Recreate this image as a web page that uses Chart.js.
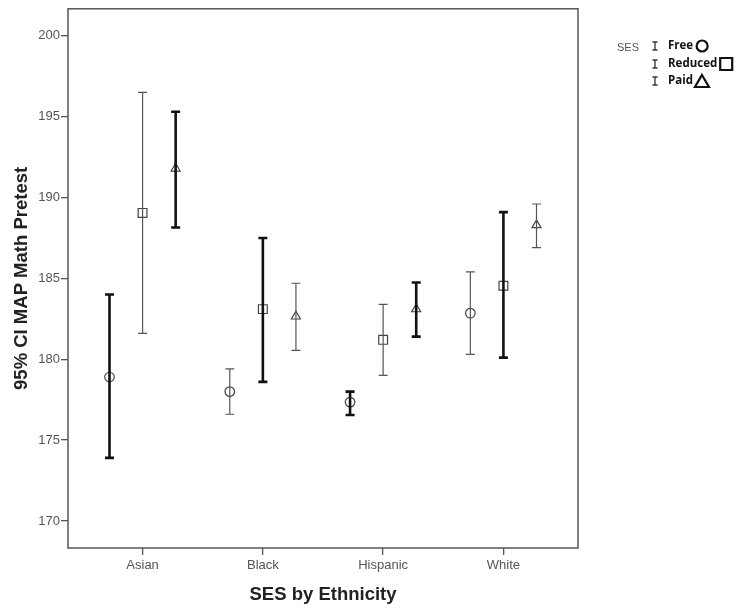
<!DOCTYPE html>
<html>
<head>
<meta charset="utf-8">
<script src="https://cdn.jsdelivr.net/npm/chart.js@4/dist/chart.umd.min.js"></script>
<style>
  html, body { margin:0; padding:0; background:#fff; }
  #wrap { width:738px; height:611px; }
</style>
</head>
<body>
<div id="wrap"><canvas id="chart" width="738" height="611"></canvas></div>
<script>
// ── data ──
const categories   = ['Asian', 'Black', 'Hispanic', 'White'];
const sesLevels    = ['Free', 'Reduced', 'Paid'];
const yTicks       = [170, 175, 180, 185, 190, 195, 200];

const freeMean     = [178.9, 178.0, 177.35, 182.85];
const freeLow      = [173.9, 176.6, 176.55, 180.3];
const freeHigh     = [184.0, 179.4, 178.0, 185.4];

const reducedMean  = [189.05, 183.1, 181.2, 184.55];
const reducedLow   = [181.6, 178.6, 179.0, 180.1];
const reducedHigh  = [196.5, 187.5, 183.4, 189.1];

const paidMean     = [191.8, 182.65, 183.1, 188.3];
const paidLow      = [188.15, 180.55, 181.4, 186.9];
const paidHigh     = [195.3, 184.7, 184.75, 189.6];

// ── style ──
const OFFSET  = [-0.275, 0, 0.275];
const MARKER  = ['circle', 'rect', 'triangle'];
const RADIUS  = [4.8, 6.2, 5.2];
const HEAVY   = [[1,0,1,0], [0,1,0,1], [1,0,1,0]];   // which bars are drawn bold
const FONT    = 'Arial, "Liberation Sans", sans-serif';

const series = [
  { mean: freeMean,    lo: freeLow,    hi: freeHigh },
  { mean: reducedMean, lo: reducedLow, hi: reducedHigh },
  { mean: paidMean,    lo: paidLow,    hi: paidHigh },
];

const datasets = [];
series.forEach((s, si) => {
  categories.forEach((c, ci) => {
    const bold = HEAVY[si][ci];
    const col  = bold ? '#111' : '#555';
    const w    = bold ? 2.6 : 1.2;
    datasets.push({
      type: 'line',
      data: [{ x: ci + OFFSET[si], y: s.lo[ci] }, { x: ci + OFFSET[si], y: s.hi[ci] }],
      borderColor: col, borderWidth: w,
      pointStyle: 'line', pointRadius: 4.5,
      pointBorderColor: col, pointBorderWidth: w,
      pointHoverRadius: 4.5,
    });
  });
});
series.forEach((s, si) => {
  datasets.push({
    type: 'scatter',
    label: sesLevels[si],
    data: s.mean.map((m, ci) => ({ x: ci + OFFSET[si], y: m })),
    pointStyle: MARKER[si],
    pointRadius: RADIUS[si],
    pointBackgroundColor: '#fff',
    pointBorderColor: '#444',
    pointBorderWidth: 1.2,
  });
});

const framePlugin = {
  id: 'frame',
  afterDraw(chart) {
    const { ctx, chartArea: a } = chart;
    ctx.save();
    ctx.strokeStyle = '#555';
    ctx.lineWidth = 1.5;
    ctx.strokeRect(a.left, a.top, a.right - a.left, a.bottom - a.top);

    // legend
    ctx.fillStyle = '#555';
    ctx.font = '11px ' + FONT;
    ctx.textBaseline = 'middle';
    ctx.fillText('SES', 617, 48);

    const rows = [46, 64, 81];
    ctx.font = 'bold 11.5px "Open Sans", Arial, sans-serif';
    sesLevels.forEach((lab, i) => {
      const y = rows[i];
      ctx.strokeStyle = '#333'; ctx.lineWidth = 1.3;
      ctx.beginPath();
      ctx.moveTo(655, y - 4); ctx.lineTo(655, y + 4);
      ctx.moveTo(652.5, y - 4); ctx.lineTo(657.5, y - 4);
      ctx.moveTo(652.5, y + 4); ctx.lineTo(657.5, y + 4);
      ctx.stroke();
      ctx.fillStyle = '#111';
      ctx.textAlign = 'left';
      ctx.fillText(lab, 668, y);
      const tw = ctx.measureText(lab).width;
      const mx = 668 + tw + 9;
      ctx.strokeStyle = '#111'; ctx.lineWidth = 2.2;
      ctx.beginPath();
      if (i === 0) {
        ctx.arc(mx, y, 5.5, 0, Math.PI * 2);
      } else if (i === 1) {
        ctx.rect(mx - 6, y - 6, 12, 12);
      } else {
        ctx.moveTo(mx, y - 6); ctx.lineTo(mx + 7, y + 6); ctx.lineTo(mx - 7, y + 6); ctx.closePath();
      }
      ctx.stroke();
    });
    ctx.restore();
  }
};

new Chart(document.getElementById('chart'), {
  data: { datasets },
  options: {
    responsive: false,
    animation: false,
    events: [],
    layout: { padding: { top: 8, right: 160, left: 0, bottom: 0 } },
    plugins: { legend: { display: false }, tooltip: { enabled: false } },
    scales: {
      x: {
        type: 'linear',
        min: -0.62, max: 3.62,
        afterBuildTicks: s => { s.ticks = categories.map((c, i) => ({ value: i })); },
        afterFit: s => { s.height = 63; },
        ticks: {
          callback: v => categories[v],
          color: '#555',
          font: { family: FONT, size: 13 },
          padding: 3,
          maxRotation: 0,
        },
        grid: { drawOnChartArea: false, drawTicks: true, tickLength: 7, color: '#555', lineWidth: 1.3 },
        border: { display: false },
        title: {
          display: true, text: 'SES by Ethnicity', color: '#222',
          font: { family: FONT, size: 18.5, weight: 'bold' },
          padding: { top: 4, bottom: 5 },
        },
      },
      y: {
        type: 'linear',
        min: 168.33, max: 201.67,
        afterBuildTicks: s => { s.ticks = yTicks.map(v => ({ value: v })); },
        afterFit: s => { s.width = 68; },
        ticks: {
          color: '#555',
          font: { family: FONT, size: 13 },
          padding: 1,
        },
        grid: { drawOnChartArea: false, drawTicks: true, tickLength: 7, color: '#555', lineWidth: 1.3 },
        border: { display: false },
        title: {
          display: true, text: '95% CI MAP Math Pretest', color: '#222',
          font: { family: FONT, size: 18.5, weight: 'bold' },
          padding: { top: 11, bottom: 4 },
        },
      },
    },
  },
  plugins: [framePlugin],
});
</script>
</body>
</html>
